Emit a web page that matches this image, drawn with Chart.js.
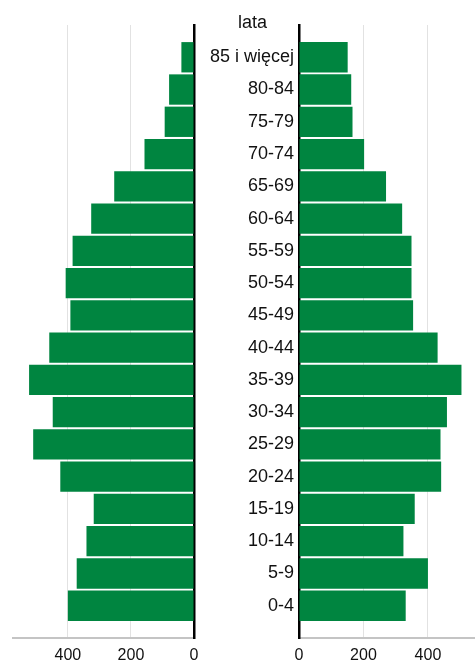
<!DOCTYPE html>
<html>
<head>
<meta charset="utf-8">
<script src="https://cdn.jsdelivr.net/npm/chart.js@4.4.1/dist/chart.umd.min.js"></script>
<style>
  html, body { margin: 0; padding: 0; background: #fff; }
  #wrap { position: relative; width: 475px; height: 662px; }
  canvas { position: absolute; top: 0; }
  #left { left: 0; }
  #right { left: 200px; }
</style>
</head>
<body>
<div id="wrap">
  <canvas id="left" width="200" height="662"></canvas>
  <canvas id="right" width="275" height="662"></canvas>
</div>
<script>
// ---- data (top row first) ----
const categories = ['85 i więcej', '80-84', '75-79', '70-74', '65-69', '60-64', '55-59', '50-54', '45-49',
                    '40-44', '35-39', '30-34', '25-29', '20-24', '15-19', '10-14', '5-9', '0-4'];
const leftValues  = [40, 79, 93, 157, 253, 326, 385, 407, 392, 459, 523, 448, 510, 424, 318, 341, 372, 400];
const rightValues = [151, 162, 166, 202, 270, 320, 349, 349, 354, 430, 504, 459, 439, 441, 359, 324, 400, 331];
const xTicks = [0, 200, 400];
const axisTitle = 'lata';

const FONT = "'Liberation Sans', Arial, sans-serif";
const GREEN = 'rgb(0,133,64)';

// padded category list: empty slot above and below the bars
const paddedLabels = [''].concat(categories, ['']);
const pad = arr => [null].concat(arr, [null]);

function xScale(max, reverse) {
  return {
    type: 'linear',
    min: 0,
    max: max,
    reverse: reverse,
    afterBuildTicks: s => { s.ticks = xTicks.map(v => ({ value: v })); },
    afterFit: s => { s.height = 24; },
    grid: {
      drawTicks: false,
      color: ctx => (ctx.tick && ctx.tick.value === 0) ? 'rgba(0,0,0,0)' : '#e2e2e2',
      lineWidth: 1
    },
    border: { display: true, color: '#c4c4c4', width: 2 },
    ticks: {
      padding: 8,
      color: '#111',
      font: { family: FONT, size: 16 },
      maxRotation: 0
    }
  };
}

Chart.defaults.font.family = FONT;

new Chart(document.getElementById('left'), {
  type: 'bar',
  data: {
    labels: paddedLabels,
    datasets: [{ data: pad(leftValues), backgroundColor: GREEN, borderWidth: 0,
                 barPercentage: 0.94, categoryPercentage: 1 }]
  },
  options: {
    indexAxis: 'y',
    responsive: false,
    animation: false,
    devicePixelRatio: 1,
    layout: { padding: { top: 25, left: 13, right: 6, bottom: 0 } },
    plugins: { legend: { display: false }, tooltip: { enabled: false } },
    scales: {
      x: xScale(574, true),
      y: {
        type: 'category',
        position: 'right',
        offset: false,
        afterFit: s => { s.width = 0; },
        grid: { display: false, drawTicks: false },
        border: { display: true, color: '#000', width: 2.5 },
        ticks: { display: false }
      }
    }
  }
});

const lataPlugin = {
  id: 'lata',
  afterDraw(chart) {
    const ctx = chart.ctx;
    ctx.save();
    ctx.font = '18px ' + FONT;
    ctx.fillStyle = '#111';
    ctx.textAlign = 'center';
    ctx.textBaseline = 'alphabetic';
    ctx.fillText(axisTitle, 52.5, 28);
    ctx.restore();
  }
};

new Chart(document.getElementById('right'), {
  type: 'bar',
  data: {
    labels: paddedLabels,
    datasets: [{ data: pad(rightValues), backgroundColor: GREEN, borderWidth: 0,
                 barPercentage: 0.94, categoryPercentage: 1 }]
  },
  options: {
    indexAxis: 'y',
    responsive: false,
    animation: false,
    devicePixelRatio: 1,
    layout: { padding: { top: 25, left: 0, right: 0, bottom: 0 } },
    plugins: { legend: { display: false }, tooltip: { enabled: false } },
    scales: {
      x: xScale(546, false),
      y: {
        type: 'category',
        position: 'left',
        offset: false,
        afterFit: s => { s.width = 99; },
        grid: { display: false, drawTicks: false },
        border: { display: true, color: '#000', width: 2.5 },
        ticks: {
          padding: 5,
          color: '#111',
          font: { family: FONT, size: 18 },
          autoSkip: false
        }
      }
    }
  },
  plugins: [lataPlugin]
});
</script>
</body>
</html>
